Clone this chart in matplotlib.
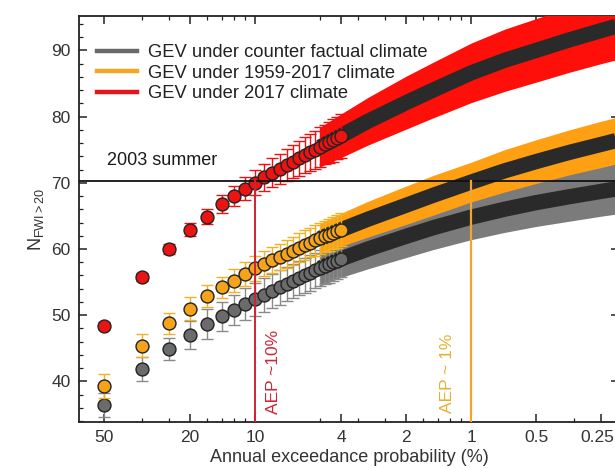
import numpy as np
import matplotlib
matplotlib.use("Agg")
import matplotlib.pyplot as plt
import matplotlib.transforms as mtransforms
from matplotlib.ticker import FixedLocator, NullFormatter, MultipleLocator
from matplotlib.lines import Line2D

plt.rcParams['font.family'] = ['Liberation Sans', 'DejaVu Sans']
plt.rcParams['mathtext.fontset'] = 'custom'
plt.rcParams['mathtext.rm'] = 'Liberation Sans'
plt.rcParams['mathtext.it'] = 'Liberation Sans:italic'

# ---------------- data ----------------
return_periods = [2, 3, 4, 5, 6, 7, 8, 9, 10, 11, 12, 13, 14, 15, 16, 17, 18, 19, 20, 21, 22, 23, 24, 25]

cf_mid = [36.4, 41.9, 44.9, 47.0, 48.7, 49.8, 50.8, 51.7, 52.4, 53.05, 53.65, 54.2, 54.7, 55.15,
          55.6, 56.0, 56.4, 56.75, 57.1, 57.4, 57.7, 58.0, 58.25, 58.5]
cf_err = [1.8, 1.8, 1.7, 2.1, 2.3, 2.2, 2.3, 2.4, 2.5, 2.5, 2.5, 2.6, 2.6, 2.6,
          2.6, 2.7, 2.7, 2.7, 2.7, 2.7, 2.8, 2.8, 2.8, 2.8]

hist_mid = [39.3, 45.4, 48.8, 51.0, 52.9, 54.2, 55.2, 56.2, 57.1, 57.75, 58.3, 58.8, 59.3, 59.75,
            60.2, 60.6, 60.95, 61.3, 61.6, 61.9, 62.15, 62.4, 62.65, 62.9]
hist_err = [1.8, 1.7, 1.6, 1.7, 1.7, 1.6, 1.7, 1.8, 1.9, 1.9, 2.0, 2.0, 2.1, 2.1,
            2.2, 2.2, 2.2, 2.3, 2.3, 2.3, 2.4, 2.4, 2.5, 2.5]

y17_mid = [48.4, 55.8, 60.0, 62.9, 64.9, 66.8, 68.0, 69.1, 70.0, 70.8, 71.5, 72.1, 72.7, 73.2,
           73.7, 74.2, 74.6, 75.0, 75.4, 75.8, 76.1, 76.4, 76.8, 77.1]
y17_err = [0.5, 0.6, 0.8, 1.0, 1.1, 1.3, 1.5, 1.7, 1.9, 2.0, 2.2, 2.3, 2.4, 2.5,
           2.6, 2.7, 2.8, 2.9, 3.0, 3.0, 3.1, 3.2, 3.2, 3.3]

band_aep = [5, 4, 3, 2, 1.5, 1, 0.7, 0.5, 0.35, 0.25, 0.2]
cf_band_mid = [57.1, 58.5, 60.0, 61.9, 63.2, 64.8, 66.0, 67.0, 67.9, 68.7, 69.2]
cf_band_err = [2.7, 2.8, 3.0, 3.2, 3.3, 3.4, 3.5, 3.6, 3.7, 3.75, 3.8]
hist_band_mid = [61.6, 62.9, 64.5, 66.6, 68.1, 70.1, 71.8, 73.2, 74.6, 75.8, 76.6]
hist_band_err = [2.3, 2.5, 2.7, 2.9, 3.0, 3.0, 3.2, 3.3, 3.4, 3.5, 3.5]
y17_band_mid = [75.4, 77.1, 79.3, 82.1, 84.0, 86.6, 88.5, 90.0, 91.6, 93.0, 93.9]
y17_band_err = [3.0, 3.3, 3.6, 4.0, 4.2, 4.5, 4.7, 4.8, 4.9, 5.0, 5.1]

summer_2003 = 70.3
aep_threshold_2017 = 10
aep_threshold_hist = 1

series_labels = ["GEV under counter factual climate",
                 "GEV under 1959-2017 climate",
                 "GEV under 2017 climate"]

x_major = [50, 20, 10, 4, 2, 1, 0.5, 0.25]
x_major_labels = ["50", "20", "10", "4", "2", "1", "0.5", "0.25"]
x_minor_rp = [3, 4, 6, 7, 8, 9, 20, 30, 40, 60, 70, 80, 90, 300]

# ---------------- figure ----------------
fig = plt.figure(figsize=(6.15, 4.68), dpi=100)
ax = fig.add_axes([0.1285, 0.0989, 0.878, 0.8669])

dark = "#2a2a2a"
aep_pts = 100.0 / np.array(return_periods)


def draw_series(mid, err, bmid, berr, face, ecol, bandcol, z):
    bmid = np.array(bmid)
    berr = np.array(berr)
    ax.fill_between(band_aep, bmid - berr, bmid + berr, color=bandcol, lw=0, zorder=z)
    ax.plot(band_aep, bmid, color=dark, lw=11, solid_capstyle='butt', zorder=z + 0.1)
    ax.errorbar(aep_pts, mid, yerr=err, fmt='o', ms=9.3, mfc=face, mec="#222222", mew=1.0,
                ecolor=ecol, elinewidth=1.0, capsize=4.5, capthick=1.0, zorder=z + 0.2)


draw_series(cf_mid, cf_err, cf_band_mid, cf_band_err, "#6b6b6b", "#8a8a8a", "#7b7b7b", 2)
draw_series(hist_mid, hist_err, hist_band_mid, hist_band_err, "#f6a31c", "#f0b222", "#ffa012", 3)
draw_series(y17_mid, y17_err, y17_band_mid, y17_band_err, "#ec1313", "#f01010", "#ff0f0a", 4)

ax.set_xscale('log')
ax.set_xlim(65.3, 0.2065)
ax.set_ylim(33.9, 95.2)

# reference lines
ax.axhline(summer_2003, color="#111111", lw=1.3, zorder=6)
ax.plot([aep_threshold_2017, aep_threshold_2017], [33.9, summer_2003], color="#d42034", lw=1.4, zorder=6)
ax.plot([aep_threshold_hist, aep_threshold_hist], [33.9, summer_2003], color="#f0a532", lw=1.6, zorder=6)

ax.text(48.4, 73.3, "2003 summer", fontsize=13, ha='left', va='center', color="#1a1a1a", zorder=7)
ax.text(8.17, 35.0, "AEP ~10%", fontsize=12.5, rotation=90, ha='center', va='bottom', color="#d02436", zorder=7)
ax.text(1.29, 35.2, "AEP ~ 1%", fontsize=12.5, rotation=90, ha='center', va='bottom', color="#e8b030", zorder=7)

# ticks
ax.xaxis.set_major_locator(FixedLocator(x_major))
ax.set_xticklabels(x_major_labels)
ax.xaxis.set_minor_locator(FixedLocator(list(100.0 / np.array(x_minor_rp))))
ax.xaxis.set_minor_formatter(NullFormatter())
ax.yaxis.set_major_locator(FixedLocator([40, 50, 60, 70, 80, 90]))
ax.yaxis.set_minor_locator(MultipleLocator(2))
ax.tick_params(which='both', direction='in', top=True, right=True, colors="#222222",
               labelsize=12.5, labelcolor="#333333")
ax.tick_params(which='major', length=6, width=1.1, pad=6)
ax.tick_params(which='minor', length=3, width=0.9)
for s in ax.spines.values():
    s.set_linewidth(1.3)
    s.set_color("#222222")

# keep the last tick label inside the picture
last_lbl = ax.get_xticklabels()[-1]
last_lbl.set_transform(last_lbl.get_transform() +
                       mtransforms.ScaledTranslation(-3 / 72, 0, fig.dpi_scale_trans))

ax.set_xlabel("Annual exceedance probability (%)", fontsize=13, color="#333333", labelpad=2.5)
ax.set_ylabel(r"N$_{\mathrm{FWI>20}}$", fontsize=13, color="#333333", labelpad=4)

handles = [Line2D([0], [0], color="#6a6a6a", lw=3.2),
           Line2D([0], [0], color="#f5a623", lw=3.2),
           Line2D([0], [0], color="#e8141c", lw=3.2)]
leg = ax.legend(handles, series_labels, loc='upper left', bbox_to_anchor=(97 / 615, 1 - 44 / 468),
                bbox_transform=fig.transFigure, frameon=False, fontsize=13.2, handlelength=2.2,
                handletextpad=0.6, labelspacing=0.2, borderpad=0, borderaxespad=0)
for t in leg.get_texts():
    t.set_color("#222222")
leg.set_zorder(8)

fig.savefig("out.png", dpi=100)
